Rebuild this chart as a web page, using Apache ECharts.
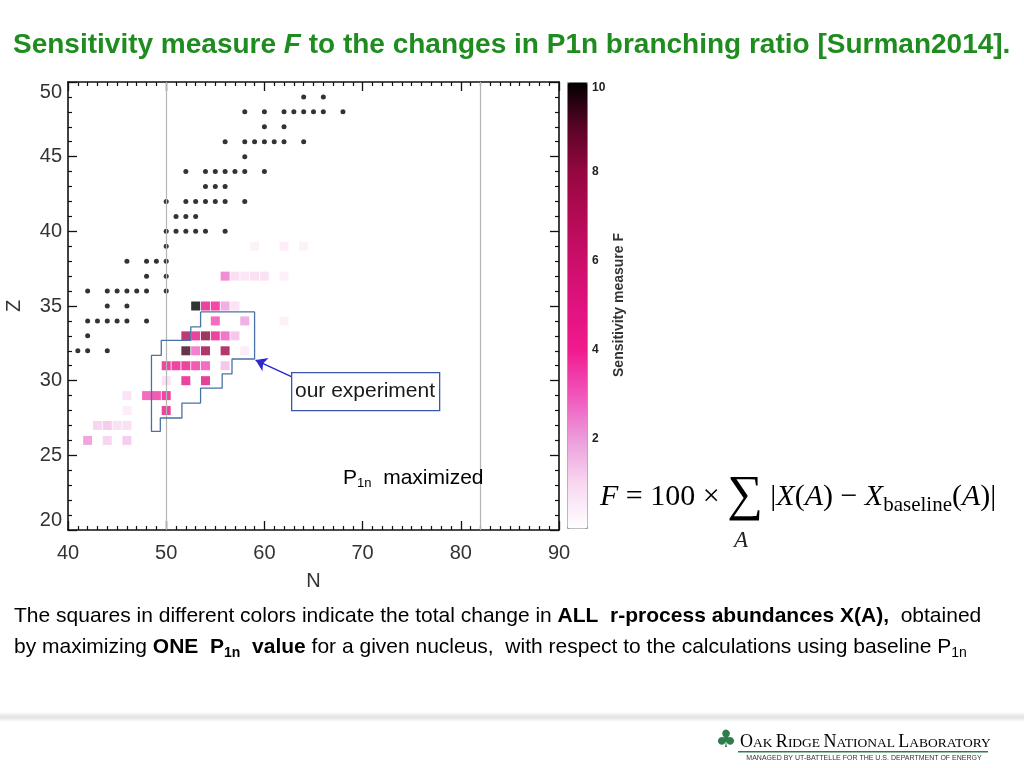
<!DOCTYPE html>
<html>
<head>
<meta charset="utf-8">
<script src="https://cdn.jsdelivr.net/npm/echarts/dist/echarts.min.js"></script>
<style>
html, body { margin: 0; padding: 0; background: #fff; }
#box { width: 1024px; height: 768px; }
</style>
</head>
<body>
<div id="box"></div>
<script>
// black dots: [Z, [N...]]
const dotRows = [
    [49, [64, 66]],
    [48, [58, 60, 62, 63, 64, 65, 66, 68]],
    [47, [60, 62]],
    [46, [56, 58, 59, 60, 61, 62, 64]],
    [45, [58]],
    [44, [52, 54, 55, 56, 57, 58, 60]],
    [43, [54, 55, 56]],
    [42, [50, 52, 53, 54, 55, 56, 58]],
    [41, [51, 52, 53]],
    [40, [50, 51, 52, 53, 54, 56]],
    [39, [50]],
    [38, [46, 48, 49, 50]],
    [37, [48, 50]],
    [36, [42, 44, 45, 46, 47, 48, 50]],
    [35, [44, 46]],
    [34, [42, 43, 44, 45, 46, 48]],
    [33, [42]],
    [32, [41, 42, 44]],
];

// coloured squares: [N, Z, F]
const squares = [
    [59, 39, 0.4], [62, 39, 0.6], [64, 39, 0.4],
    [56, 37, 2.6], [57, 37, 1.0], [58, 37, 0.8], [59, 37, 1.0], [60, 37, 0.9], [62, 37, 0.5],
    [53, 35, 10], [54, 35, 4.6], [55, 35, 4.0], [56, 35, 2.0], [57, 35, 0.9],
    [55, 34, 3.2], [58, 34, 2.0], [62, 34, 0.5],
    [52, 33, 7.2], [53, 33, 4.6], [54, 33, 8.3], [55, 33, 4.5], [56, 33, 3.0], [57, 33, 1.5],
    [52, 32, 9.3], [53, 32, 2.8], [54, 32, 7.8], [56, 32, 7.6], [58, 32, 0.6],
    [50, 31, 4.3], [51, 31, 4.3], [52, 31, 4.5], [53, 31, 3.6], [54, 31, 3.2], [56, 31, 1.5],
    [50, 30, 0.9], [52, 30, 4.6], [54, 30, 5.0],
    [46, 29, 0.9], [48, 29, 3.2], [49, 29, 3.6], [50, 29, 4.3],
    [46, 28, 0.6], [50, 28, 4.6],
    [43, 27, 1.2], [44, 27, 1.4], [45, 27, 1.0], [46, 27, 1.0],
    [42, 26, 2.2], [44, 26, 1.2], [46, 26, 1.4],
];

// "our experiment" outline, [N, Z]
const expOutline = [
    [53.5, 34.6], [59, 34.6], [59, 31.45], [56.7, 31.45], [56.7, 30.45], [55.7, 30.45],
    [55.7, 29.5], [53.5, 29.5], [53.5, 28.5], [51.6, 28.5], [51.6, 27.5], [49.4, 27.5],
    [49.4, 26.6], [48.5, 26.6], [48.5, 31.7], [49.5, 31.7], [49.5, 32.7], [52.5, 32.7],
    [52.5, 33.6], [53.5, 33.6], [53.5, 34.6],
];
const arrowFrom = [62.8, 30.25];
const arrowTo = [59.1, 31.38];
const guideN = [50, 82]; // vertical guide lines

const colorStops = ['#ffffff', '#f8d8f0', '#ec9cdc', '#f055bc', '#f01a8e', '#e01280',
    '#cc0e6a', '#b30a55', '#940840', '#5a0426', '#000000'];

const narrow = '"Liberation Sans Narrow", "Arial Narrow", "Liberation Sans", Arial, sans-serif';
const sans = '"Liberation Sans", Arial, Helvetica, sans-serif';
const serif = '"Liberation Serif", "DejaVu Serif", "Times New Roman", serif';

const dotData = [];
dotRows.forEach(([z, ns]) => ns.forEach(n => dotData.push([n, z])));

const frameAxis = {
    axisLine: { show: true, onZero: false, lineStyle: { color: '#111', width: 1.6 } },
    axisTick: { show: true, inside: true, length: 9, lineStyle: { color: '#111', width: 1.3 } },
    minorTick: { show: true, length: 4, lineStyle: { color: '#111', width: 1.2 } },
    splitLine: { show: false },
};
const labelStyle = { fontSize: 20, color: '#333', fontFamily: sans };

const myChart = echarts.init(document.getElementById('box'));
myChart.setOption({
    animation: false,
    title: {
        left: 8, top: 26,
        text: '{b|Sensitivity measure }{i|F}{b| to the changes in P1n branching ratio [Surman2014].}',
        textStyle: {
            rich: {
                b: { fontSize: 28, fontWeight: 'bold', color: '#1e8c1e', fontFamily: narrow },
                i: { fontSize: 28, fontWeight: 'bold', fontStyle: 'italic', color: '#1e8c1e', fontFamily: narrow },
            },
        },
    },
    grid: [
        { left: 68, top: 82, width: 491, height: 448, outerBoundsMode: 'none' },
        { left: 567, top: 82, width: 20, height: 446, outerBoundsMode: 'none' },
    ],
    xAxis: [
        {
            ...frameAxis, gridIndex: 0, type: 'value', min: 40, max: 90, interval: 10,
            minorTick: { ...frameAxis.minorTick, splitNumber: 10 },
            axisLabel: { ...labelStyle, margin: 13 },
            name: 'N', nameLocation: 'middle', nameGap: 41,
            nameTextStyle: { ...labelStyle },
        },
        {
            ...frameAxis, gridIndex: 0, type: 'value', min: 40, max: 90, interval: 10, position: 'top',
            minorTick: { ...frameAxis.minorTick, splitNumber: 10 },
            axisLabel: { show: false },
        },
        { gridIndex: 1, type: 'value', min: 0, max: 1, show: false },
    ],
    yAxis: [
        {
            ...frameAxis, gridIndex: 0, type: 'value', min: 20, max: 50, interval: 5,
            minorTick: { ...frameAxis.minorTick, splitNumber: 5 },
            axisLabel: { ...labelStyle, margin: 6, verticalAlignMaxLabel: 'top', verticalAlignMinLabel: 'bottom' },
            name: 'Z', nameLocation: 'middle', nameGap: 44, nameRotate: 90,
            nameTextStyle: { ...labelStyle },
        },
        {
            ...frameAxis, gridIndex: 0, type: 'value', min: 20, max: 50, interval: 5, position: 'right',
            minorTick: { ...frameAxis.minorTick, splitNumber: 5 },
            axisLabel: { show: false },
        },
        {
            gridIndex: 1, type: 'value', min: 0, max: 10, interval: 2, position: 'right',
            axisLine: { show: false }, axisTick: { show: false }, splitLine: { show: false },
            axisLabel: {
                fontSize: 12, fontWeight: 'bold', color: '#222', fontFamily: sans, margin: 5,
                verticalAlignMaxLabel: 'top',
                formatter: v => (v === 0 ? '' : String(v)),
            },
            name: 'Sensitivity measure F', nameLocation: 'middle', nameRotate: 90, nameGap: 25,
            nameTextStyle: { fontSize: 14, fontWeight: 'bold', color: '#333', fontFamily: sans },
        },
    ],
    visualMap: {
        type: 'continuous', min: 0, max: 10, dimension: 2, seriesIndex: 1,
        left: 567, top: 82, itemWidth: 20, itemHeight: 446, padding: 0,
        calculable: false, hoverLink: false,
        borderColor: '#999', borderWidth: 1,
        inRange: { color: colorStops },
    },
    series: [
        {
            name: 'dots', type: 'scatter', xAxisIndex: 0, yAxisIndex: 0,
            symbol: 'circle', symbolSize: 5, itemStyle: { color: '#000' },
            data: dotData, z: 3,
            markLine: {
                silent: true, symbol: ['none', 'none'], label: { show: false },
                lineStyle: { color: '#b4b4b4', width: 1.2, type: 'solid' },
                data: guideN.map(n => ({ xAxis: n })),
            },
        },
        {
            name: 'squares', type: 'scatter', xAxisIndex: 0, yAxisIndex: 0,
            symbol: 'rect', symbolSize: 9, data: squares, z: 4,
        },
        {
            name: 'outline', type: 'line', xAxisIndex: 0, yAxisIndex: 0,
            data: expOutline, showSymbol: false, z: 5,
            lineStyle: { color: '#4872a6', width: 1.3 },
            markLine: {
                silent: true, symbol: ['none', 'arrow'], symbolSize: 11, label: { show: false },
                lineStyle: { color: '#2a2ad0', width: 1.5, type: 'solid' },
                data: [[{ coord: arrowFrom }, { coord: arrowTo }]],
            },
        },
        { type: 'scatter', xAxisIndex: 2, yAxisIndex: 2, data: [] },
    ],
    graphic: [
        {
            type: 'rect', left: 291, top: 372, z: 10,
            shape: { width: 148, height: 38 },
            style: { fill: '#fff', stroke: '#3b58a8', lineWidth: 1.3 },
        },
        {
            type: 'text', x: 365, y: 391, z: 11,
            style: { text: 'our experiment', font: '21px ' + narrow, fill: '#1a1a1a', align: 'center', verticalAlign: 'middle' },
        },
        {
            type: 'text', x: 343, y: 478, z: 11,
            style: {
                text: '{p|P}{s|1n}{p|  maximized}', verticalAlign: 'middle',
                rich: {
                    p: { fontSize: 21, fontFamily: sans, color: '#3a3a3a' },
                    s: { fontSize: 13, fontFamily: sans, color: '#3a3a3a', padding: [10, 0, 0, 0] },
                },
            },
        },
        // formula
        {
            type: 'text', x: 600, y: 497,
            style: {
                verticalAlign: 'middle',
                text: '{i|F}{n| = 100 × }{g|∑}{n| |}{i|X}{n|(}{i|A}{n|) − }{i|X}{s|baseline}{n|(}{i|A}{n|)|}',
                rich: {
                    n: { fontSize: 30, fontFamily: serif, color: '#222' },
                    i: { fontSize: 30, fontFamily: serif, fontStyle: 'italic', color: '#222' },
                    g: { fontSize: 50, fontFamily: serif, color: '#222' },
                    s: { fontSize: 21, fontFamily: serif, color: '#222', padding: [16, 0, 0, 0] },
                },
            },
        },
        {
            type: 'text', x: 741, y: 541,
            style: { text: 'A', font: 'italic 23px ' + serif, fill: '#222', align: 'center', verticalAlign: 'middle' },
        },
        // caption
        {
            type: 'text', x: 14, y: 616,
            style: {
                verticalAlign: 'middle',
                text: '{n|The squares in different colors indicate the total change in }{b|ALL  r-process abundances X(A),}{n|  obtained}',
                rich: {
                    n: { fontSize: 21, fontFamily: narrow, color: '#111' },
                    b: { fontSize: 21, fontFamily: narrow, fontWeight: 'bold', color: '#111' },
                },
            },
        },
        {
            type: 'text', x: 14, y: 647,
            style: {
                verticalAlign: 'middle',
                text: '{n|by maximizing }{b|ONE  P}{bs|1n}{b|  value}{n| for a given nucleus,  with respect to the calculations using baseline P}{s|1n}',
                rich: {
                    n: { fontSize: 21, fontFamily: narrow, color: '#111' },
                    b: { fontSize: 21, fontFamily: narrow, fontWeight: 'bold', color: '#111' },
                    bs: { fontSize: 14, fontFamily: narrow, fontWeight: 'bold', color: '#111', padding: [12, 0, 0, 0] },
                    s: { fontSize: 14, fontFamily: narrow, color: '#111', padding: [12, 0, 0, 0] },
                },
            },
        },
        // footer band
        {
            type: 'rect', left: 0, top: 712, z: 0,
            shape: { width: 1024, height: 10 },
            style: {
                fill: new echarts.graphic.LinearGradient(0, 0, 0, 1, [
                    { offset: 0, color: '#ffffff' }, { offset: 0.5, color: '#e2e2e2' }, { offset: 1, color: '#ffffff' },
                ]),
            },
        },
        {
            type: 'text', x: 726, y: 741,
            style: { text: '♣', font: 'bold 24px "DejaVu Sans", sans-serif', fill: '#2f7d4c', align: 'center', verticalAlign: 'middle' },
        },
        {
            type: 'text', x: 740, y: 742,
            style: {
                verticalAlign: 'middle',
                text: '{B|O}{s|AK }{B|R}{s|IDGE }{B|N}{s|ATIONAL }{B|L}{s|ABORATORY}',
                rich: {
                    B: { fontSize: 18, fontFamily: serif, color: '#2f7d4c' },
                    s: { fontSize: 13.5, fontFamily: serif, color: '#2f7d4c', padding: [3, 0, 0, 0] },
                },
            },
        },
        {
            type: 'rect', left: 738, top: 751, z: 1,
            shape: { width: 250, height: 1.5 },
            style: { fill: '#2f7d4c' },
        },
        {
            type: 'text', x: 864, y: 758,
            style: { text: 'MANAGED BY UT-BATTELLE FOR THE U.S. DEPARTMENT OF ENERGY', font: '7px ' + sans, fill: '#333', align: 'center', verticalAlign: 'middle' },
        },
    ],
});
</script>
</body>
</html>
